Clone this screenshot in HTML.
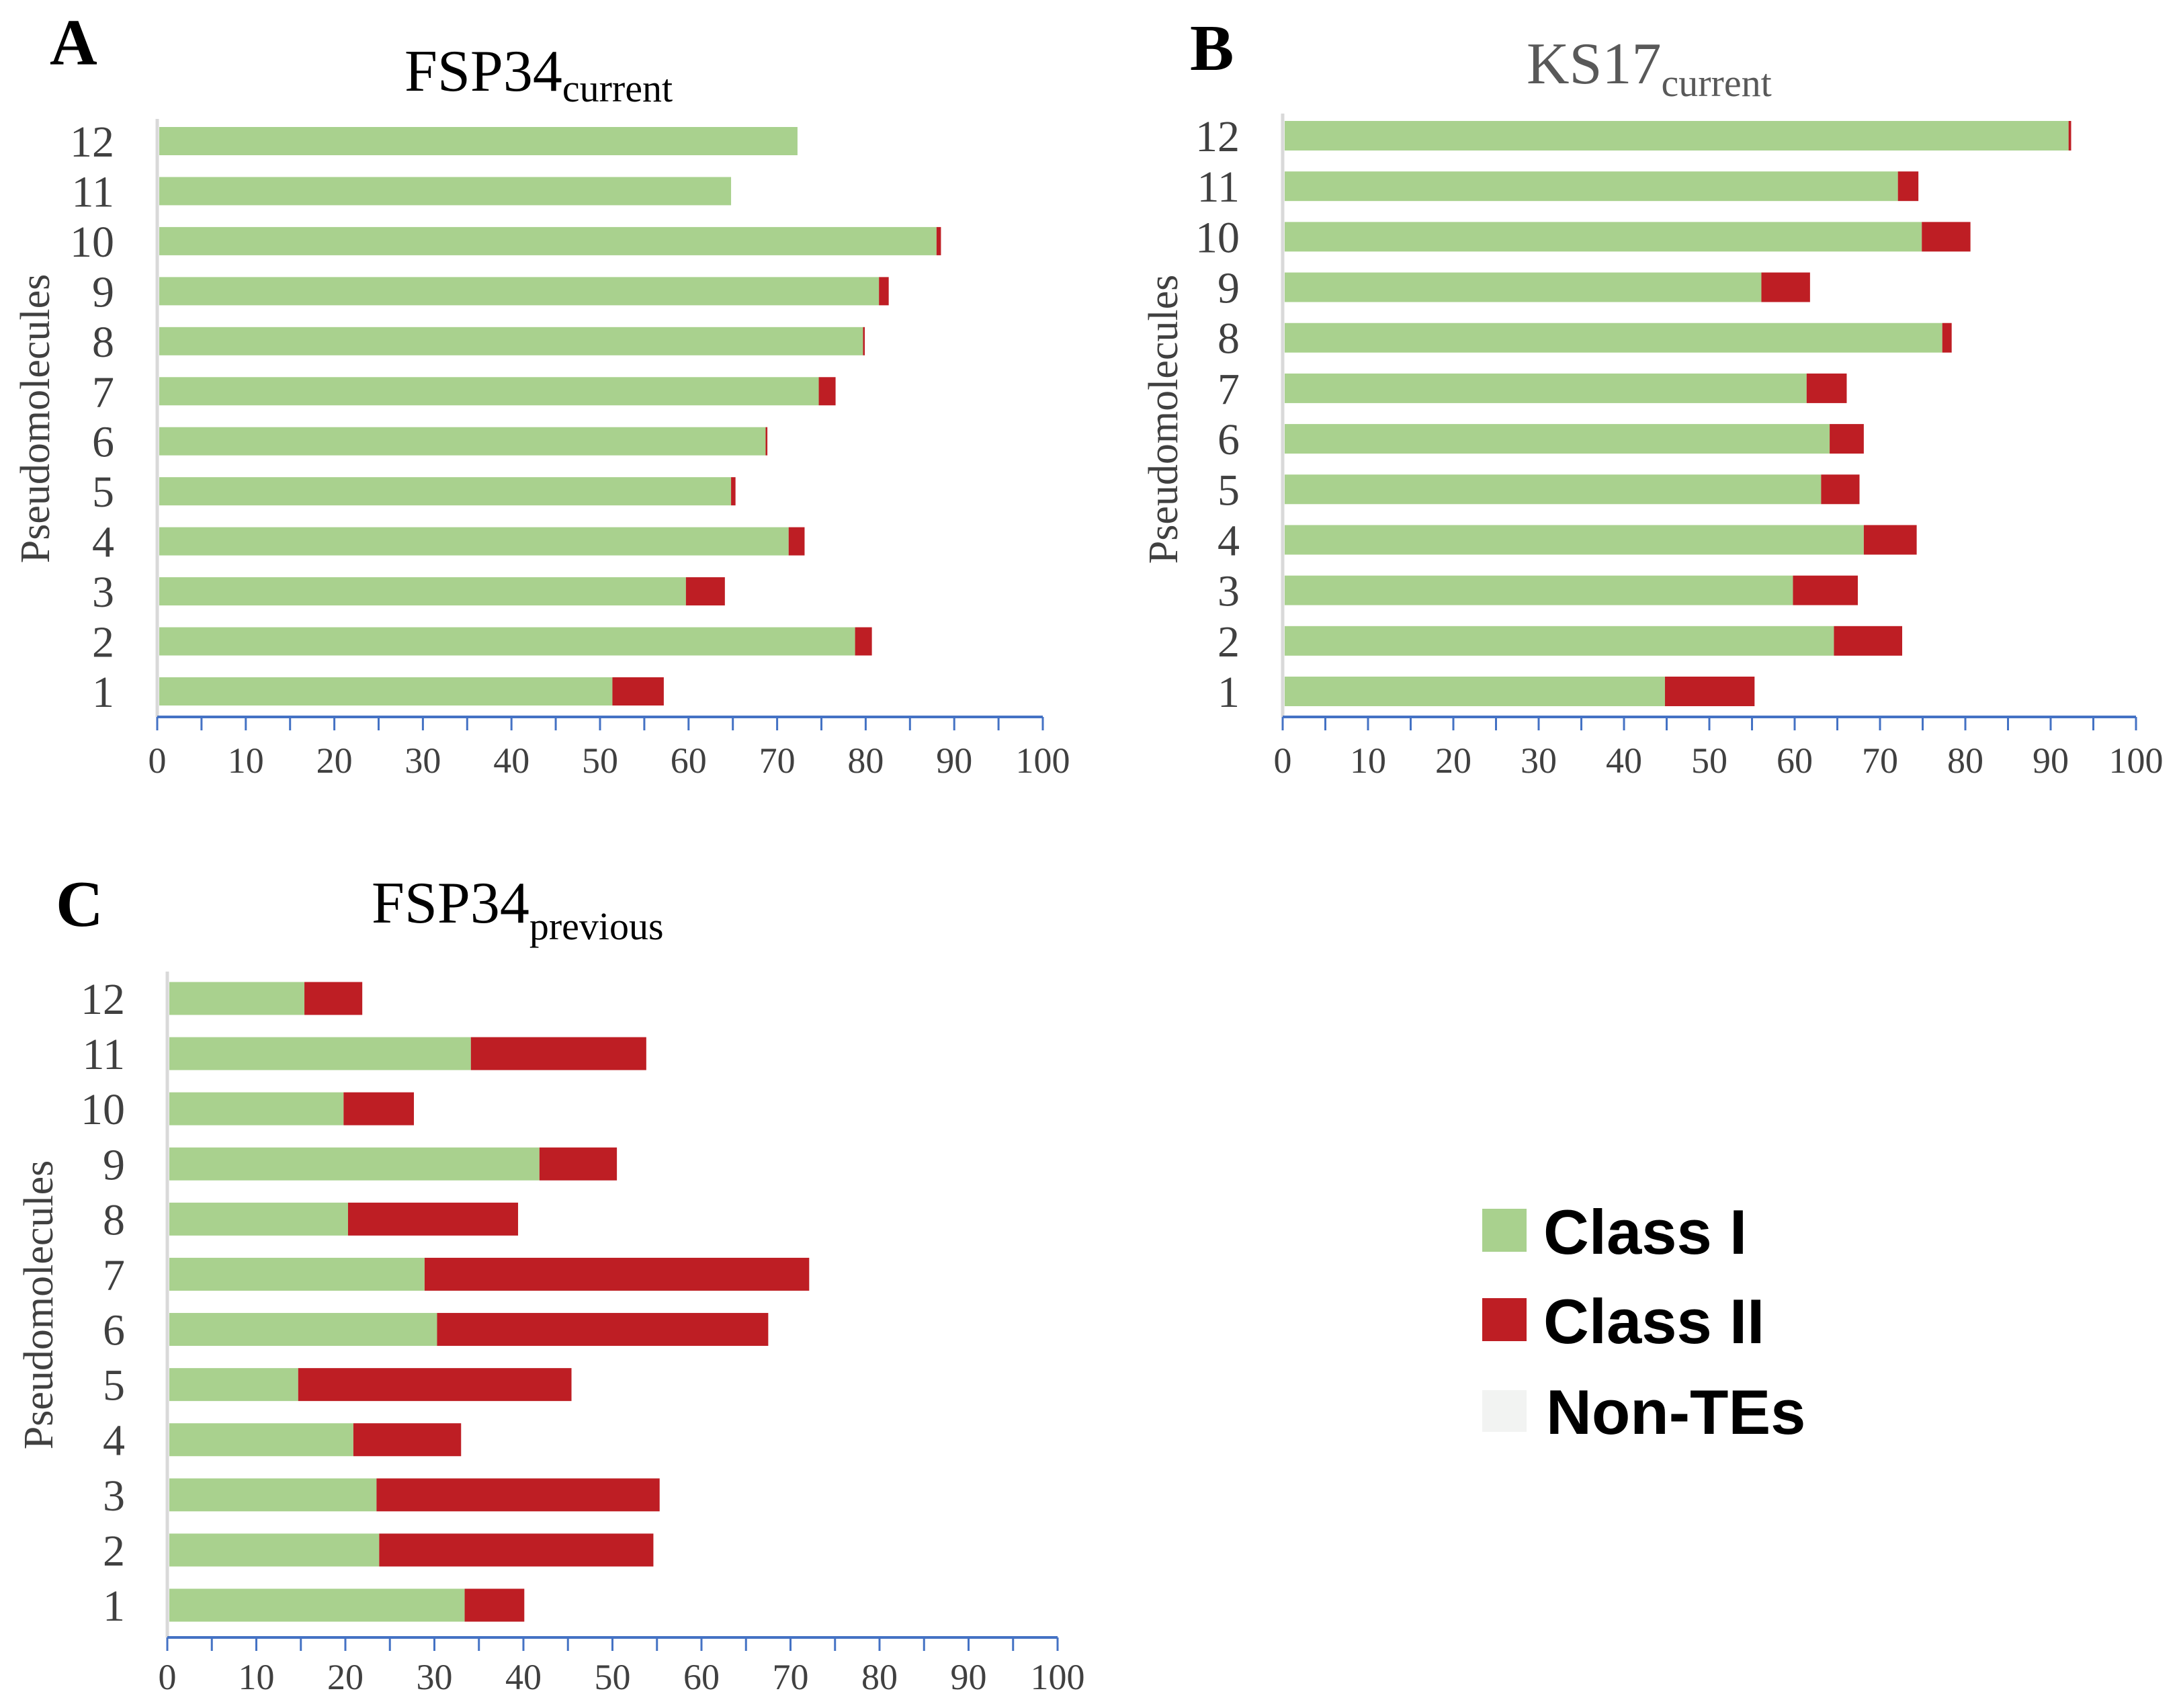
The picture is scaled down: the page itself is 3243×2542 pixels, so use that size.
<!DOCTYPE html>
<html><head><meta charset="utf-8"><style>
html,body{margin:0;padding:0;background:#fff;}
svg{display:block;}
</style></head><body>
<svg id="fig" width="3243" height="2542" viewBox="0 0 3243 2542" xmlns="http://www.w3.org/2000/svg">
<rect width="3243" height="2542" fill="#fff"/>
<g font-family="Liberation Serif, serif">
<text x="74" y="96" font-size="98" font-weight="bold" fill="#000">A</text>
<text x="602" y="135" font-size="88" fill="#000">FSP34<tspan font-size="58" dy="16">current</tspan></text>
<text x="1771" y="104" font-size="98" font-weight="bold" fill="#000">B</text>
<text x="2272" y="124" font-size="88" fill="#595959">KS17<tspan font-size="58" dy="19">current</tspan></text>
<text x="83" y="1378" font-size="98" font-weight="bold" fill="#000">C</text>
<text x="553" y="1373" font-size="88" fill="#000">FSP34<tspan font-size="58" dy="25">previous</tspan></text>
</g>
<g id="panels"></g>
<g font-family="Liberation Sans, sans-serif" font-weight="bold" font-size="94" fill="#000">
<rect x="2206" y="1799" width="66" height="64" fill="#a9d18e"/>
<text x="2297" y="1866">Class I</text>
<rect x="2206" y="1932" width="66" height="64" fill="#be1e24"/>
<text x="2297" y="1999">Class II</text>
<rect x="2206" y="2069" width="66" height="62" fill="#f2f3f2"/>
<text x="2301" y="2134">Non-TEs</text>
</g>
</svg>
<script>
const categories = ["1","2","3","4","5","6","7","8","9","10","11","12"];
const ticks = [0,10,20,30,40,50,60,70,80,90,100];
const aClassI = [51.4,78.8,59.7,71.3,64.8,68.7,74.7,79.7,81.5,88.0,64.8,72.3];
const aClassII = [5.8,1.9,4.4,1.8,0.5,0.2,1.9,0.2,1.1,0.5,0,0];
const bClassI = [44.8,64.6,59.8,68.1,63.1,64.1,61.4,77.3,56.1,74.9,72.1,92.1];
const bClassII = [10.5,8.0,7.6,6.2,4.5,4.0,4.7,1.1,5.7,5.7,2.4,0.3];
const cClassI = [33.4,23.8,23.5,20.9,14.7,30.3,28.9,20.3,41.8,19.8,34.1,15.4];
const cClassII = [6.7,30.8,31.8,12.1,30.7,37.2,43.2,19.1,8.7,7.9,19.7,6.5];

const NS = "http://www.w3.org/2000/svg";
const root = document.getElementById("panels");
function mk(tag, attrs, parent){
  const e = document.createElementNS(NS, tag);
  for (const k in attrs) e.setAttribute(k, attrs[k]);
  parent.appendChild(e);
  return e;
}
function drawPanel(id, cfg, c1, c2){
  const g = mk("g", {}, root);
  
  
  const xs = v => cfg.x0 + (cfg.x1 - cfg.x0) * v / 100;
  const ys = i => cfg.yBottom - (cfg.yBottom - cfg.yTop) * i / (categories.length - 1);
  const ya = mk("line", {x1:cfg.x0, x2:cfg.x0, y1:cfg.axisTop, y2:cfg.axisY, stroke:"#d9d9d9", "stroke-width":5}, g);
  
  
  categories.forEach((c, i) => {
    const y = ys(i);
    const w1 = xs(c1[i]) - xs(0);
    const r1 = mk("rect", {x:xs(0)+3, y:y - cfg.bh/2, width:Math.max(0,w1-3), height:cfg.bh, fill:"#a9d18e"}, g);
    
    
    const w2 = xs(c1[i] + c2[i]) - xs(c1[i]);
    const r2 = mk("rect", {x:xs(c1[i]), y:y - cfg.bh/2, width:Math.max(0,w2), height:cfg.bh, fill:"#be1e24"}, g);
    
    
    const t = mk("text", {x:cfg.labelX, y:y + 23, "text-anchor":"end", "font-family":"Liberation Serif, serif", "font-size":66, fill:"#404040"}, g);
    t.textContent = c;
    
    
  });
  const xa = mk("line", {x1:cfg.x0, x2:cfg.x1, y1:cfg.axisY, y2:cfg.axisY, stroke:"#4472c4", "stroke-width":4}, g);
  
  
  for (let v = 0; v <= 100; v += 5){
    const tk = mk("line", {x1:xs(v), x2:xs(v), y1:cfg.axisY, y2:cfg.axisY + 20, stroke:"#4472c4", "stroke-width":3}, g);
    
    
  }
  ticks.forEach(v => {
    const t = mk("text", {x:xs(v), y:cfg.tickY, "text-anchor":"middle", "font-family":"Liberation Serif, serif", "font-size":54, fill:"#404040"}, g);
    t.textContent = v;
    
    
  });
  const yt = mk("text", {x:0, y:0, "text-anchor":"middle", "font-family":"Liberation Serif, serif", "font-size":62, fill:"#404040",
    transform:"translate(" + (cfg.ytX) + "," + cfg.ytY + ") rotate(-90)"}, g);
  yt.textContent = "Pseudomolecules";
  
  
}
drawPanel("panel-a", {x0:234, x1:1552, yTop:210, yBottom:1029, bh:42, axisTop:177, axisY:1067, tickY:1150, labelX:170, ytX:73, ytY:623}, aClassI, aClassII);
drawPanel("panel-b", {x0:1909, x1:3179, yTop:202, yBottom:1029, bh:44, axisTop:169, axisY:1067, tickY:1150, labelX:1845, ytX:1752, ytY:624}, bClassI, bClassII);
drawPanel("panel-c", {x0:249, x1:1574, yTop:1486, yBottom:2389, bh:49, axisTop:1446, axisY:2437, tickY:2514, labelX:186, ytX:78, ytY:1942}, cClassI, cClassII);
</script>
</body></html>
